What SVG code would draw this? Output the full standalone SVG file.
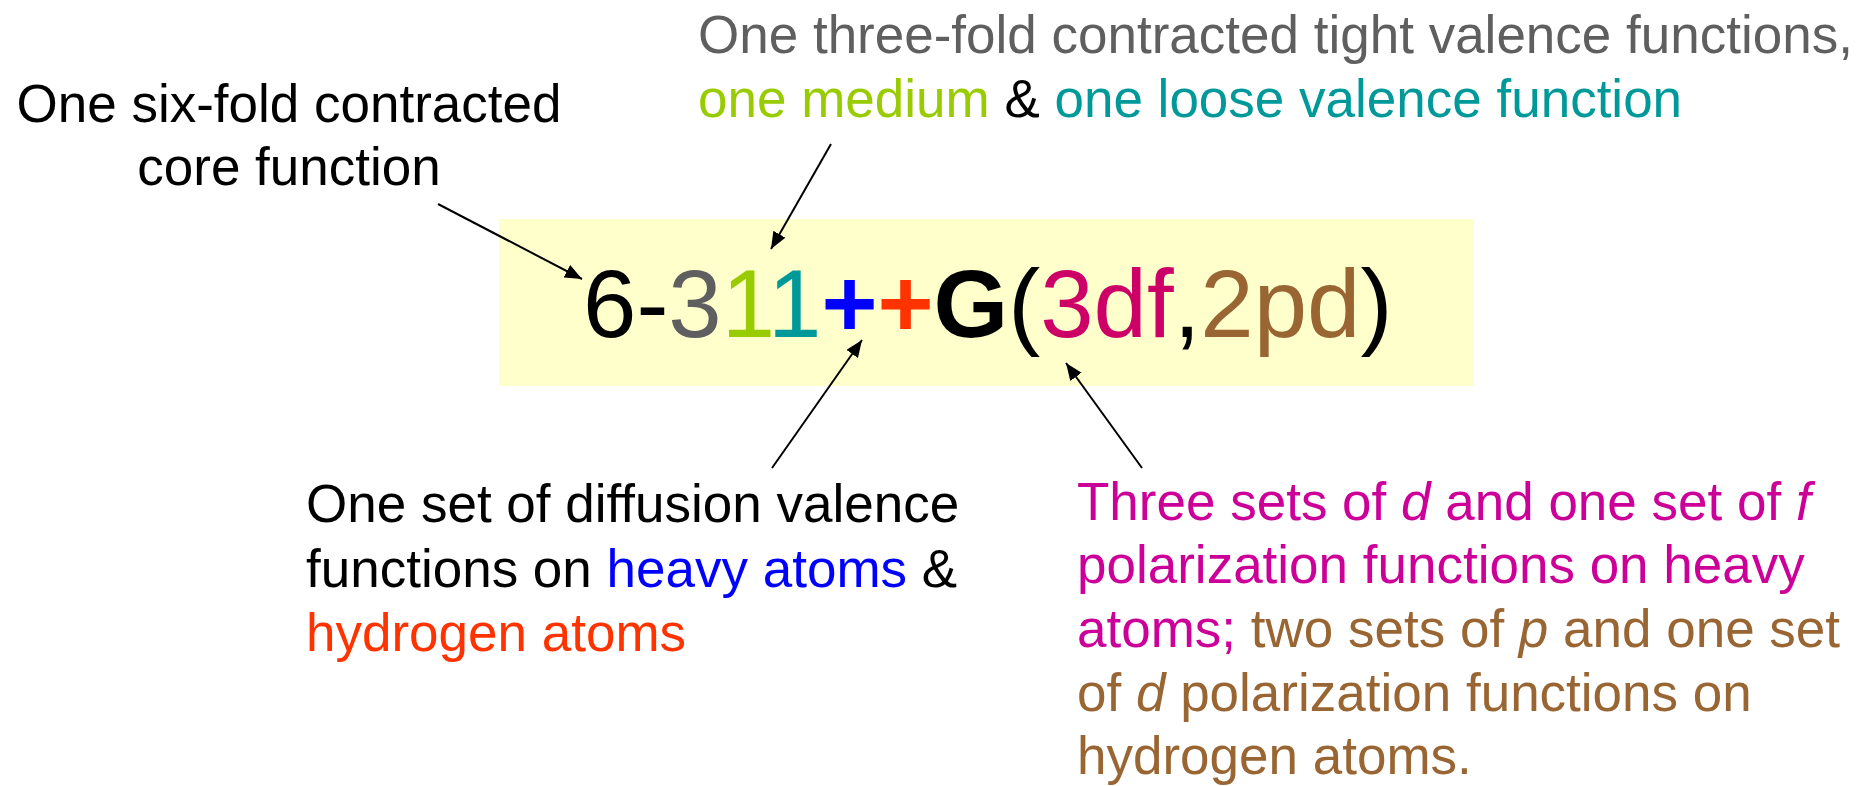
<svg xmlns="http://www.w3.org/2000/svg" width="1863" height="786" viewBox="0 0 1863 786">
<style>
text{font-family:"Liberation Sans",Arial,sans-serif;font-size:53px;fill:#000}
.f{font-size:96px}
.b{font-weight:bold}
.gray{fill:#5F5F5F}.green{fill:#99CC00}.teal{fill:#009999}.blue{fill:#0000FF}.red{fill:#FF3300}
.mag{fill:#CC0099}.rose{fill:#CC0066}.brown{fill:#996633}.i{font-style:italic}
.c{stroke:#000;stroke-width:2;fill:none;marker-end:url(#ah)}
</style>
<defs>
<marker id="ah" markerUnits="userSpaceOnUse" markerWidth="18" markerHeight="14" refX="17" refY="7" orient="auto">
<path d="M0,0 L17,7 L0,14 Z" fill="#000"/>
</marker>
</defs>
<rect width="1863" height="786" fill="#fff"/>
<g id="formula">
<rect x="499" y="219" width="975" height="167" fill="#FFFFCC"/>
<text class="f" x="583" y="337">6-<tspan class="gray">3</tspan><tspan class="green">1</tspan><tspan class="teal">1</tspan><tspan class="blue b">+</tspan><tspan class="red b">+</tspan><tspan class="b">G</tspan>(<tspan class="rose">3df</tspan>,<tspan class="brown">2pd</tspan>)</text>
</g>
<g id="core">
<text x="289" y="122" text-anchor="middle">One six-fold contracted</text>
<text x="289" y="185" text-anchor="middle">core function</text>
</g>
<g id="valence">
<text x="698" y="53" class="gray">One three-fold contracted tight valence functions,</text>
<text x="698" y="117"><tspan class="green">one medium</tspan> &amp; <tspan class="teal">one loose valence function</tspan></text>
</g>
<g id="diffuse">
<text x="306" y="522">One set of diffusion valence</text>
<text x="306" y="587">functions on <tspan class="blue">heavy atoms</tspan> &amp;</text>
<text x="306" y="651" class="red">hydrogen atoms</text>
</g>
<g id="polarization">
<text x="1077" y="520" class="mag">Three sets of <tspan class="i">d</tspan> and one set of <tspan class="i">f</tspan></text>
<text x="1077" y="583" class="mag">polarization functions on heavy</text>
<text x="1077" y="647"><tspan class="mag">atoms;</tspan><tspan class="brown"> two sets of <tspan class="i">p</tspan> and one set</tspan></text>
<text x="1077" y="711" class="brown">of <tspan class="i">d</tspan> polarization functions on</text>
<text x="1077" y="774" class="brown">hydrogen atoms.</text>
</g>
<g id="connectors">
<line class="c" x1="438" y1="204" x2="582" y2="279"/>
<line class="c" x1="831" y1="144" x2="771" y2="249"/>
<line class="c" x1="772" y1="468" x2="862" y2="340"/>
<line class="c" x1="1142" y1="468" x2="1066" y2="363"/>
</g>
</svg>
